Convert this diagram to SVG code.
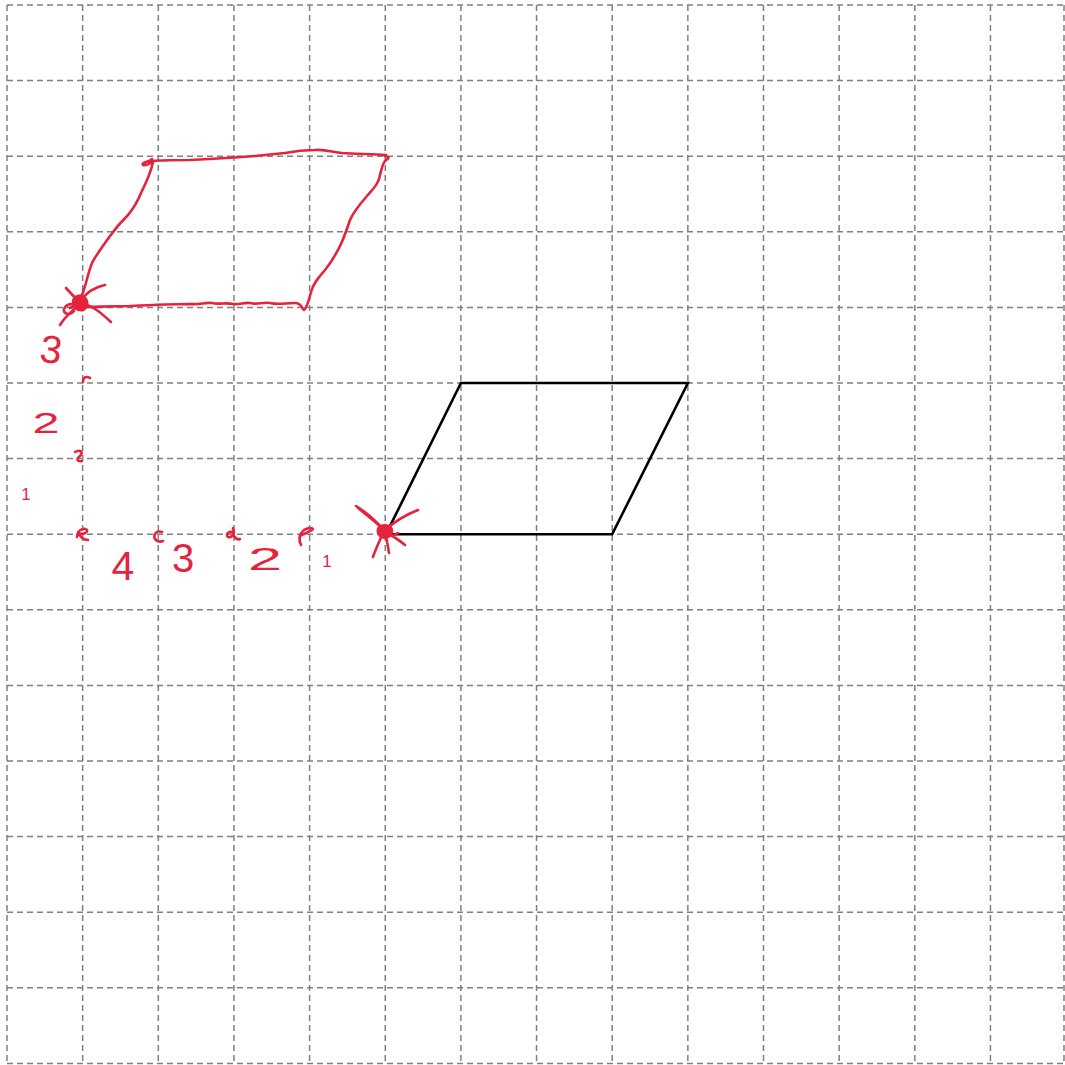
<svg xmlns="http://www.w3.org/2000/svg" width="1065" height="1065" viewBox="0 0 1065 1065">
<style>
.grid line{stroke:#808080;stroke-width:1.5;stroke-dasharray:6 4;fill:none}
.shape{fill:none;stroke:#000;stroke-width:2.6;stroke-linejoin:miter}
.ink{fill:none;stroke:#e5233d;stroke-width:2.6;stroke-linecap:round;stroke-linejoin:round}
.blob{fill:#e5233d;stroke:none}
.num{fill:#e5233d;font-family:"Liberation Sans","DejaVu Sans",sans-serif;text-anchor:middle}
</style>
<rect width="1065" height="1065" fill="#fff"/>
<g id="grid" class="grid">
<line x1="7" y1="5" x2="7" y2="1064"/>
<line x1="82.65" y1="5" x2="82.65" y2="1064"/>
<line x1="158.3" y1="5" x2="158.3" y2="1064"/>
<line x1="233.95" y1="5" x2="233.95" y2="1064"/>
<line x1="309.6" y1="5" x2="309.6" y2="1064"/>
<line x1="385.25" y1="5" x2="385.25" y2="1064"/>
<line x1="460.9" y1="5" x2="460.9" y2="1064"/>
<line x1="536.55" y1="5" x2="536.55" y2="1064"/>
<line x1="612.2" y1="5" x2="612.2" y2="1064"/>
<line x1="687.85" y1="5" x2="687.85" y2="1064"/>
<line x1="763.5" y1="5" x2="763.5" y2="1064"/>
<line x1="839.15" y1="5" x2="839.15" y2="1064"/>
<line x1="914.8" y1="5" x2="914.8" y2="1064"/>
<line x1="990.45" y1="5" x2="990.45" y2="1064"/>
<line x1="1064" y1="5" x2="1064" y2="1064"/>
<line x1="7" y1="5" x2="1065" y2="5"/>
<line x1="7" y1="80.6" x2="1065" y2="80.6"/>
<line x1="7" y1="156.2" x2="1065" y2="156.2"/>
<line x1="7" y1="231.8" x2="1065" y2="231.8"/>
<line x1="7" y1="307.4" x2="1065" y2="307.4"/>
<line x1="7" y1="383" x2="1065" y2="383"/>
<line x1="7" y1="458.6" x2="1065" y2="458.6"/>
<line x1="7" y1="534.2" x2="1065" y2="534.2"/>
<line x1="7" y1="609.8" x2="1065" y2="609.8"/>
<line x1="7" y1="685.4" x2="1065" y2="685.4"/>
<line x1="7" y1="761" x2="1065" y2="761"/>
<line x1="7" y1="836.6" x2="1065" y2="836.6"/>
<line x1="7" y1="912.2" x2="1065" y2="912.2"/>
<line x1="7" y1="987.8" x2="1065" y2="987.8"/>
<line x1="7" y1="1063.4" x2="1065" y2="1063.4"/>
</g>
<g id="parallelogram-black">
<polygon class="shape" points="386,534.2 460.9,383 687.9,383 612.2,534.2"/>
</g>
<g id="parallelogram-red">
<path class="ink" d="M152,159 C150,162 141,162 143,165 C146,166 151,163 153,161 C160,160 175,160 190,160 C210,159 230,158 255,156 C265,155 275,154 285,153 C295,151 305,150 315,150 C325,149 332,152 342,153 C355,154 370,154 386,155"/>
<path class="ink" d="M153,162 C151,172 146,183 141,193 C137,203 133,209 128,215 C120,223 115,229 110,236 C103,246 96,255 92,263 C88,273 86,285 82,295 L79,303"/>
<path class="ink" d="M385,156 C389,157 390,158 386,160 C382,163 381,172 379,179 C377,186 372,190 367,196 C360,204 354,211 350,220 C347,229 344,238 340,246 C335,256 330,264 325,270 C318,278 313,284 311,292 C309,300 307,308 304,310 C301,308 302,303 295,303 C285,303 278,305 270,303 C262,302 258,305 250,303 C244,302 240,305 233,304 C225,302 220,305 212,303 C205,302 200,305 190,304 C175,304 150,305 130,306 C110,306 95,307 82,307"/>
</g>
<g id="star-top-left">
<path class="blob" d="M72,300 C74,294 82,293 86,297 C90,301 89,308 84,311 C78,313 71,309 72,300 Z"/>
<path class="ink" d="M66,288 L80,303 M80,302 C86,292 95,287 105,285 M80,303 C92,305 100,312 111,322 M80,303 C74,310 66,315 60,325 M79,304 C72,303 66,304 64,309 C63,314 70,316 74,311 M79,303 L70,308"/>
</g>
<g id="star-bottom">
<path class="blob" d="M377,528 C380,523 388,523 392,527 C395,531 392,538 386,539 C380,540 375,534 377,528 Z"/>
<path class="ink" d="M356,506 C366,512 375,520 384,530 C378,524 368,516 358,508 M384,531 C394,522 405,515 418,510 M384,531 C393,536 399,540 405,545 M384,531 C380,540 376,548 373,557 M385,532 C387,540 388,547 389,553 M381,531 C386,538 394,536 398,533"/>
</g>
<g id="ticks">
<path class="ink" d="M83,382 C83,377 86,376 90,378"/>
<path class="ink" d="M75,452 C80,449 84,452 80,456 C76,459 77,462 82,461"/>
<path class="ink" d="M77,537 C77,530 84,527 87,530 C88,534 80,535 78,532 C80,537 84,540 88,540"/>
<path class="ink" d="M162,532 C156,530 153,535 155,539 C157,542 161,542 163,541"/>
<path class="ink" d="M233,533 C229,530 225,535 228,537 C231,538 234,535 234,533 L233,528 M234,536 C236,539 238,540 240,539"/>
<path class="ink" d="M300,536 C305,533 312,531 313,529 C312,527 305,528 302,532 C299,536 299,541 301,545"/>
</g>
<g id="labels">
<text class="num" x="51" y="363" font-size="39" transform="rotate(8 51 350)">3</text>
<text class="num" x="46" y="433" font-size="29" textLength="27" lengthAdjust="spacingAndGlyphs">2</text>
<text class="num" x="26" y="500" font-size="17">1</text>
<text class="num" x="123" y="580" font-size="41">4</text>
<text class="num" x="183" y="572" font-size="40">3</text>
<text class="num" x="265" y="570" font-size="31" textLength="34" lengthAdjust="spacingAndGlyphs">2</text>
<text class="num" x="327" y="567" font-size="17">1</text>
</g>
</svg>
